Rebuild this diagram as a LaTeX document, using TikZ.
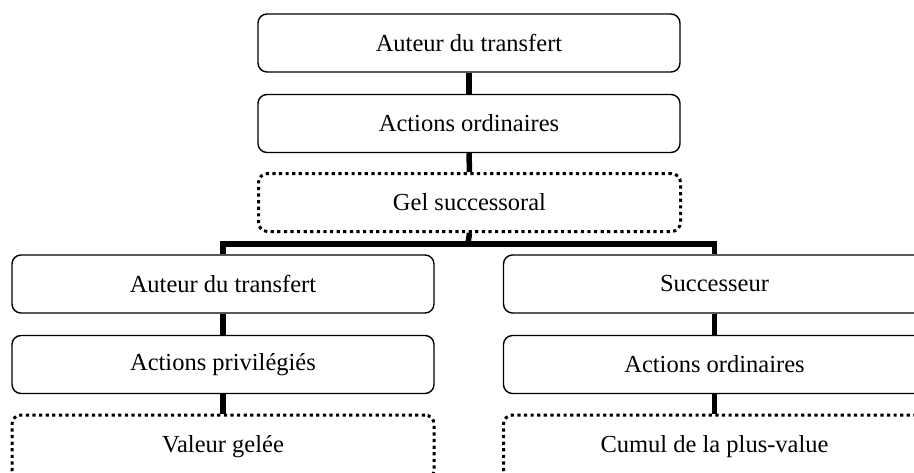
\documentclass[tikz,border=0pt]{standalone}
\usepackage{fontspec}
\setmainfont{Liberation Serif}
\begin{document}
\begin{tikzpicture}[x=1pt,y=-1pt,
  box/.style={draw=black,line width=1.4pt,rounded corners=9pt,minimum width=422pt,minimum height=58pt,inner sep=0pt,font=\fontsize{24.5}{28}\selectfont},
  dotbox/.style={box,line width=3pt,dash pattern=on 3.2pt off 3.4pt},
  conn/.style={line width=5.5pt}]
\clip (0,0) rectangle (914,472);
\node[box] (t1) at (469,43) {Auteur du transfert};
\node[box] (t2) at (469,123.5) {Actions ordinaires};
\node[dotbox] (g) at (469.5,202.5) {Gel successoral};
\node[box] (l1) at (223,284) {Auteur du transfert};
\node[box] (l2) at (223,364.5) {Actions privilégiés};
\node[dotbox,minimum height=64pt] (l3) at (223,447) {Valeur gelée};
\node[box] (r1) at (714.5,284) {Successeur};
\node[box] (r2) at (714.5,364.5) {Actions ordinaires};
\node[dotbox,minimum height=64pt] (r3) at (714.5,447) {Cumul de la plus-value};
\coordinate (bar) at (468,244);
\draw[conn] (t1.south) -- (t2.north);
\draw[conn] (t2.south) -- (g.north);
\draw[conn] (g.south) -- (bar);
\draw[conn] (l1.north) |- (bar) -| (r1.north);
\draw[conn] (l1.south) -- (l2.north);
\draw[conn] (l2.south) -- (l3.north);
\draw[conn] (r1.south) -- (r2.north);
\draw[conn] (r2.south) -- (r3.north);
\end{tikzpicture}
\end{document}
